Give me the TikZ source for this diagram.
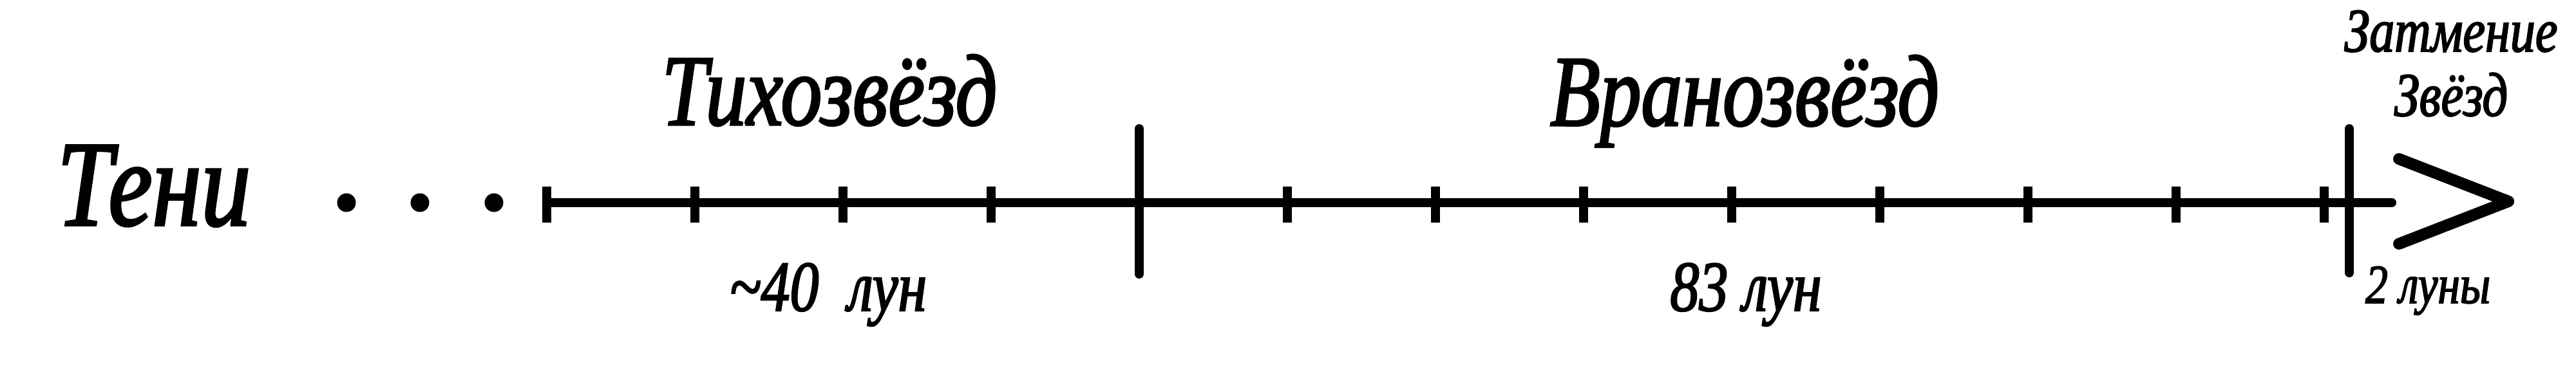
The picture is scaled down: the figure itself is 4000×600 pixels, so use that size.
\documentclass[tikz,border=0pt]{standalone}
\usepackage{fontspec}
\newfontfamily\tlfont[FakeStretch=0.81,FakeBold=2]{Liberation Serif Italic}
\tikzset{
  lbl/.style={inner sep=0pt, anchor=base},
  sz/.style={font=\tlfont\fontsize{#1}{#1}\selectfont},
  axisline/.style={line width=0.14cm, line cap=round},
  smalltick/.style={line width=0.14cm, line cap=butt},
  bigtick/.style={line width=0.14cm, line cap=round},
  chev/.style={line width=0.18cm, line cap=round, line join=round},
  dotnode/.style={circle, fill=black, inner sep=0pt, minimum size=0.29cm}
}
\begin{document}
\begin{tikzpicture}[x=0.01cm, y=-0.01cm]
\useasboundingbox[fill=white] (0,0) rectangle (4000,600);
% labels
\node[lbl, sz=53.8pt] (teni) at (239,350) {Тени};
\node[lbl, sz=44.7pt] (tikho) at (1288,194) {Тихозвёзд};
\node[lbl, sz=44.7pt] (vrano) at (2709,195) {Вранозвёзд};
\node[lbl, sz=31.6pt] (l40) at (1286,483) {\textasciitilde40\ \ лун};
\node[lbl, sz=31.6pt] (l83) at (2711,483) {83 лун};
\node[lbl, sz=27.4pt] (zatm) at (3806,80) {Затмение};
\node[lbl, sz=27.4pt] (zvezd) at (3806,180) {Звёзд};
\node[lbl, sz=24.4pt] (l2) at (3770,471) {2 луны};
% dots
\node[dotnode] (d1) at (538,315) {};
\node[dotnode] (d2) at (652,315) {};
\node[dotnode] (d3) at (767,315) {};
% axis
\coordinate (start) at (849,315);
\coordinate (end) at (3714,315);
\draw[axisline] (start) -- (end);
\foreach \x in {849,1079,1309,1539,1999,2229,2459,2689,2919,3149,3379,3609}
  \draw[smalltick] (\x,290) -- (\x,346);
\coordinate (b1t) at (1769,200);
\coordinate (b1b) at (1769,426);
\coordinate (b2t) at (3648,200);
\coordinate (b2b) at (3648,424);
\draw[bigtick] (b1t) -- (b1b);
\draw[bigtick] (b2t) -- (b2b);
% chevron
\coordinate (c1) at (3725,247);
\coordinate (tip) at (3895,313);
\coordinate (c2) at (3725,379);
\draw[chev] (c1) -- (tip) -- (c2);
\end{tikzpicture}
\end{document}
